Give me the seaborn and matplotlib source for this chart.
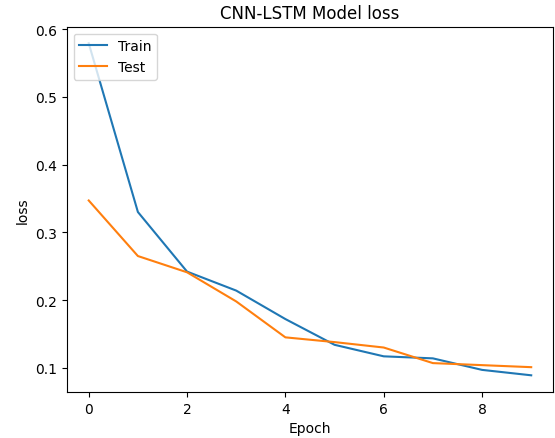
import matplotlib
matplotlib.use("Agg")
import matplotlib.pyplot as plt
import seaborn as sns
import pandas as pd

epochs = [0, 1, 2, 3, 4, 5, 6, 7, 8, 9]
train_loss = [0.579, 0.330, 0.242, 0.214, 0.172, 0.134, 0.117, 0.114, 0.097, 0.089]
test_loss = [0.347, 0.265, 0.241, 0.198, 0.145, 0.138, 0.130, 0.107, 0.104, 0.101]

df = pd.DataFrame({
    "Epoch": epochs * 2,
    "loss": train_loss + test_loss,
    "series": ["Train"] * len(epochs) + ["Test"] * len(epochs),
})

fig = plt.figure(figsize=(5.55, 4.39), dpi=100)
ax = fig.add_subplot(111)
fig.subplots_adjust(left=0.12, right=0.997, top=0.937, bottom=0.105)
sns.lineplot(data=df, x="Epoch", y="loss", hue="series",
             palette=["#1f77b4", "#ff7f0e"], ax=ax)
ax.set_title("CNN-LSTM Model loss")
ax.set_xlabel("Epoch")
ax.set_ylabel("loss")
ax.legend(loc="upper left", title=None)
fig.savefig("out.png", dpi=100)
